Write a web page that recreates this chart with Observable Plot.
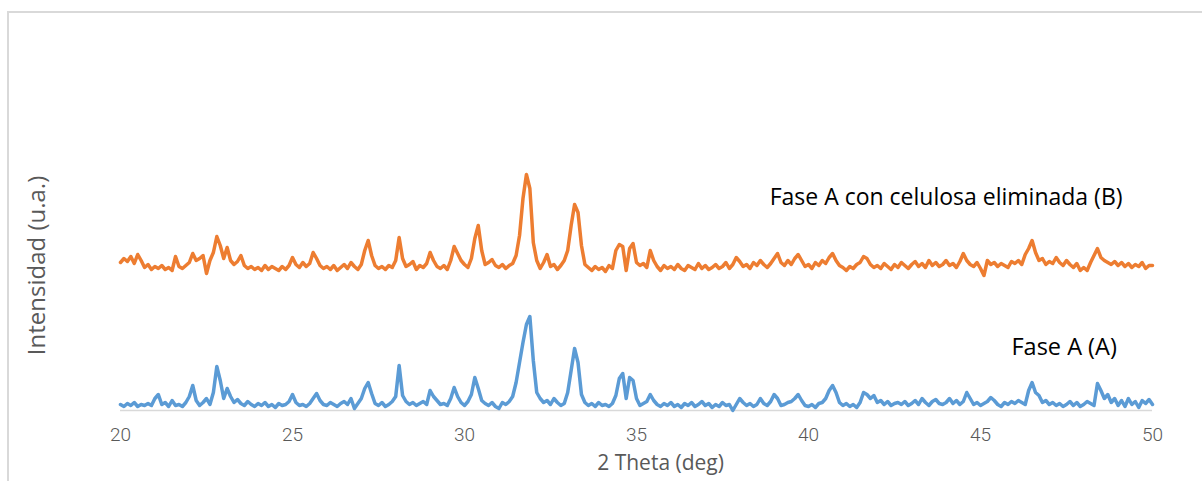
<!DOCTYPE html>
<html>
<head>
<meta charset="utf-8">
<script src="https://cdn.jsdelivr.net/npm/d3@7"></script>
<script src="https://cdn.jsdelivr.net/npm/@observablehq/plot@0.6"></script>
<style>
html, body { margin: 0; padding: 0; background: #fff; width: 1202px; height: 481px; overflow: hidden; }
#wrap { position: relative; width: 1202px; height: 481px; }
#border { position: absolute; left: 7px; top: 11px; width: 1200px; height: 480px; border-left: 2px solid #d9d9d9; border-top: 2px solid #d9d9d9; box-sizing: border-box; }
#chart { position: absolute; left: 0; top: 0; }
</style>
</head>
<body>
<div id="wrap"><div id="border"></div><div id="chart"></div></div>
<script>
// Scan grid: 2θ from 20.0 to 50.0 in 0.1° steps
const twoTheta = d3.range(0, 301).map(i => +(20 + i * 0.1).toFixed(1));

// Fase A (A) — intensity (a.u.)
const faseA = [
  6,4,7,5,8,4,6,5,7,5,
  12,16,6,8,4,10,5,6,4,8,
  14,25,10,5,8,12,6,18,44,30,
  12,22,14,8,11,7,5,9,6,4,
  7,5,8,4,6,3,7,5,6,9,
  16,8,5,6,4,7,12,17,10,6,
  5,8,6,4,7,9,6,12,2,7,
  12,22,28,17,7,5,8,4,6,9,
  14,45,15,9,6,8,5,7,9,6,
  20,14,10,6,7,5,12,23,14,8,
  5,9,16,33,22,10,7,5,8,4,
  2,8,6,9,14,28,48,68,86,94,
  50,18,12,8,10,6,12,8,5,7,
  18,40,62,48,16,8,5,7,4,8,
  5,6,4,7,15,32,37,12,33,30,
  12,5,7,9,16,10,6,4,7,5,
  8,4,6,3,7,5,8,4,6,9,
  5,7,3,6,4,8,5,6,0,6,
  12,8,5,7,4,6,12,7,5,9,
  16,12,5,6,8,9,12,16,10,5,
  4,6,3,7,8,12,20,25,18,8,
  5,7,4,6,3,8,18,16,12,15,
  8,10,6,9,5,7,8,6,9,5,
  7,10,6,12,8,5,9,11,7,6,
  8,12,7,10,6,9,18,12,6,8,
  5,7,9,13,10,6,4,8,6,9,
  7,10,8,6,20,28,18,15,8,10,
  6,8,5,7,4,6,9,5,8,4,
  6,9,7,5,27,20,12,16,8,12,
  5,10,4,12,6,9,3,10,7,11,
  6
];

// Fase A con celulosa eliminada (B) — intensity (a.u.)
const faseB = [
  148,152,149,154,147,156,150,143,146,141,
  144,142,145,141,143,140,154,144,142,145,
  148,157,150,152,155,137,150,158,174,165,
  152,163,150,146,149,155,145,142,144,141,
  143,140,145,141,144,142,140,144,141,145,
  153,146,143,148,144,147,158,152,145,142,
  144,141,145,140,143,146,142,148,144,141,
  146,160,170,155,145,142,144,141,145,143,
  150,173,152,144,146,149,141,145,143,147,
  158,150,144,142,145,141,150,164,157,150,
  146,143,152,172,185,160,146,148,151,145,
  143,146,142,145,147,155,175,212,236,222,
  168,150,142,148,156,144,146,141,145,150,
  160,185,206,198,165,146,143,140,144,141,
  143,139,145,142,160,166,164,140,162,167,
  148,145,147,143,160,150,144,140,145,142,
  144,141,146,142,140,145,143,141,147,142,
  145,141,143,146,142,144,148,142,146,153,
  149,144,146,142,148,145,150,146,143,147,
  152,157,148,145,150,146,152,156,150,144,
  146,142,148,145,150,147,153,157,150,145,
  143,140,144,142,146,148,154,152,146,143,
  145,142,147,144,141,146,143,148,145,142,
  146,149,144,147,143,150,145,148,144,146,
  150,145,147,143,149,157,150,146,144,148,
  142,135,150,146,148,144,147,145,143,149,
  147,150,146,156,162,170,158,150,152,146,
  149,147,153,148,145,150,146,143,147,140,
  143,140,148,155,162,153,150,148,146,149,
  145,148,144,147,143,146,144,148,142,145,
  145
];

const seriesLabels = ["Fase A (A)", "Fase A con celulosa eliminada (B)"];
const xTicks = [20, 25, 30, 35, 40, 45, 50];
const xTitle = "2 Theta (deg)";
const yTitle = "Intensidad (u.a.)";

const rowsA = twoTheta.map((t, i) => ({t, v: faseA[i]}));
const rowsB = twoTheta.map((t, i) => ({t, v: faseB[i]}));

const blue = "#5B9BD5", orange = "#ED7D31", gray = "#595959";

const chart = Plot.plot({
  width: 1202,
  height: 481,
  marginLeft: 120,
  marginRight: 50,
  marginTop: 10,
  marginBottom: 71,
  style: { background: "transparent", overflow: "visible" },
  x: { domain: [20, 50], axis: null },
  y: { domain: [0, 400], axis: null },
  marks: [
    Plot.ruleY([0], { stroke: "#d9d9d9", strokeWidth: 1.5 }),
    Plot.line(rowsA, { x: "t", y: "v", stroke: blue, strokeWidth: 3.5, strokeLinejoin: "round" }),
    Plot.line(rowsB, { x: "t", y: "v", stroke: orange, strokeWidth: 3.5, strokeLinejoin: "round" }),
    Plot.text(xTicks, { x: d => d, frameAnchor: "bottom", dy: 30, text: d => String(d), fill: gray, fontSize: 19, fontFamily: "Roboto, sans-serif", fontWeight: 300 }),
    Plot.text([xTitle], { x: 35.7, frameAnchor: "bottom", dy: 59, text: d => d, fill: gray, fontSize: 21, fontFamily: "Open Sans, sans-serif" }),
    Plot.text([yTitle], { x: 17.59, y: 145, rotate: -90, text: d => d, fill: gray, fontSize: 24, fontFamily: "Open Sans, sans-serif", clip: false }),
    Plot.text([seriesLabels[1]], { x: 38.87, y: 213, textAnchor: "start", text: d => d, fill: "#000", fontSize: 23, fontFamily: "Open Sans, sans-serif" }),
    Plot.text([seriesLabels[0]], { x: 45.9, y: 63, textAnchor: "start", text: d => d, fill: "#000", fontSize: 23.5, fontFamily: "Open Sans, sans-serif" })
  ]
});
document.getElementById("chart").appendChild(chart);
</script>
</body>
</html>
